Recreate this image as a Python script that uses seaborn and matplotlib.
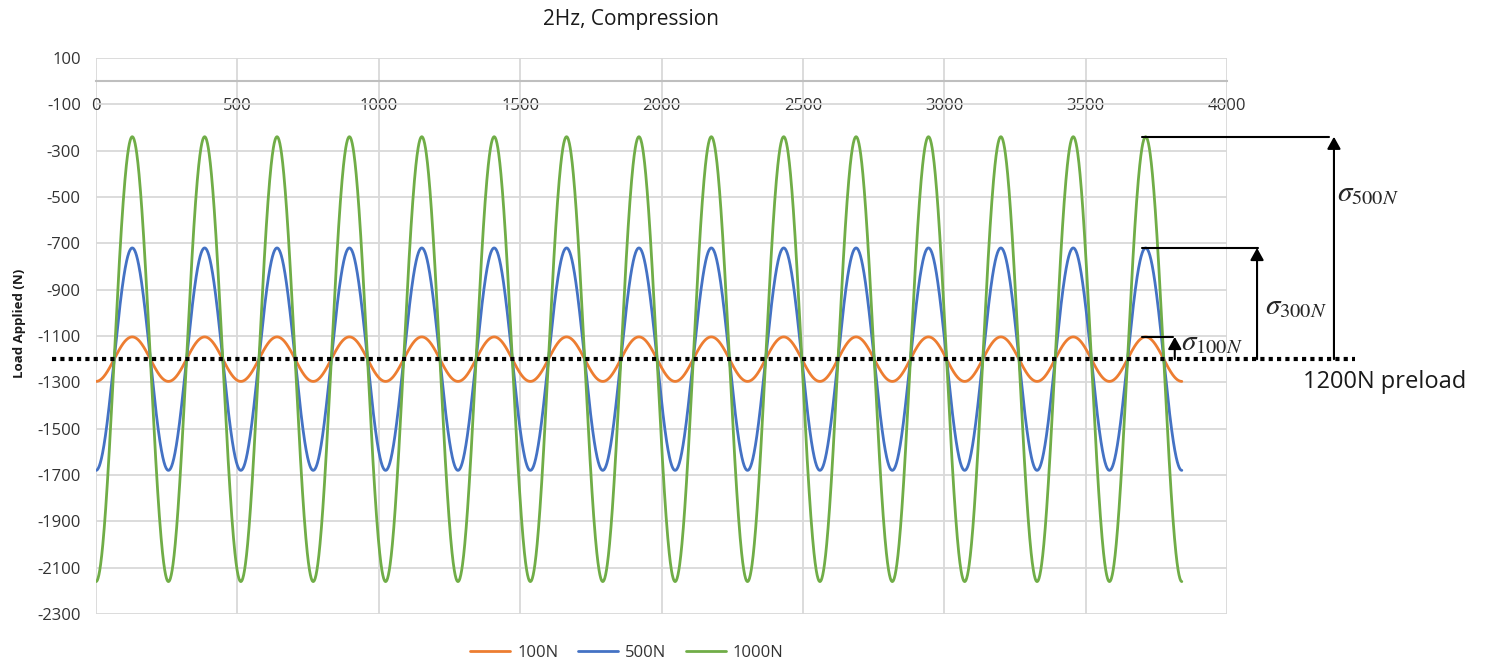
import numpy as np
import pandas as pd
import matplotlib
matplotlib.use("Agg")
import matplotlib.pyplot as plt
import seaborn as sns

# Sinusoidal compression loading about a static preload (2 Hz test)
series_names = ["100N", "500N", "1000N"]
amplitudes = [96, 480, 960]          # half peak-to-peak load of each series (N)
preload = 1200                       # static compressive preload (N)
samples_per_cycle = 256
n_cycles = 15
line_colors = ["#ED7D31", "#4472C4", "#70AD47"]

x_ticks = [0, 500, 1000, 1500, 2000, 2500, 3000, 3500, 4000]
y_ticks = [100, -100, -300, -500, -700, -900, -1100, -1300,
           -1500, -1700, -1900, -2100, -2300]

# Amplitude labels drawn beside the last peak
sigma_labels = [r"$\sigma_{100N}$", r"$\sigma_{300N}$", r"$\sigma_{500N}$"]

sns.set_theme(style="white")
plt.rcParams["font.family"] = ["Open Sans", "DejaVu Sans"]
plt.rcParams["axes.unicode_minus"] = False
plt.rcParams["mathtext.fontset"] = "stix"

sample = np.arange(0, n_cycles * samples_per_cycle + 1)
frames = []
for name, amp in zip(series_names, amplitudes):
    load = -(preload + amp * np.cos(2 * np.pi * sample / samples_per_cycle))
    frames.append(pd.DataFrame({"sample": sample, "load": load, "series": name}))
df = pd.concat(frames, ignore_index=True)

fig = plt.figure(figsize=(14.87, 6.64), dpi=100)
ax = fig.add_axes([0.0646, 0.0753, 0.7606, 0.8374])

sns.lineplot(data=df, x="sample", y="load", hue="series", hue_order=series_names,
             palette=line_colors, linewidth=2.0, ax=ax, legend=True)

ax.set_xlim(x_ticks[0], x_ticks[-1])
ax.set_ylim(y_ticks[-1], y_ticks[0])
ax.set_xticks(x_ticks)
ax.set_yticks(y_ticks)
ax.set_xlabel("")
ax.set_ylabel("")

grid_color = "#d9d9d9"
ax.grid(True, color=grid_color, linewidth=1.3)
ax.set_axisbelow(True)
for side in ["left", "right", "top"]:
    ax.spines[side].set_visible(False)
ax.spines["bottom"].set_position(("data", 0))
ax.spines["bottom"].set_color("#bfbfbf")
ax.spines["bottom"].set_linewidth(1.5)

ax.tick_params(axis="both", length=0, labelsize=12, labelcolor="#333333")
ax.tick_params(axis="x", pad=12)
ax.tick_params(axis="y", pad=11)

# Preload reference line
ax.plot([-156, 4452], [-preload, -preload], color="black", linewidth=3,
        linestyle=(0, (1, 1)), clip_on=False, zorder=5)

# Amplitude markers at the last peak of each series
peak_x = (n_cycles - 0.5) * samples_per_cycle
line_ends = [3810, 4110, 4360]
arrow_x = [3815, 4106, 4378]
label_pos = [(3838, -1128), (4134, -975), (4388, -485)]
for amp, x_end, ax_x, (lx, ly), lab in zip(amplitudes, line_ends, arrow_x,
                                           label_pos, sigma_labels):
    peak_y = -preload + amp
    ax.plot([peak_x - 12, x_end], [peak_y, peak_y], color="black",
            linewidth=1.5, clip_on=False, zorder=6)
    ax.annotate("", xy=(ax_x, peak_y), xytext=(ax_x, -preload),
                arrowprops=dict(arrowstyle="-|>,head_length=0.36,head_width=0.2",
                                mutation_scale=20, color="black", lw=1.5,
                                shrinkA=0, shrinkB=0),
                annotation_clip=False, zorder=6)
    ax.text(lx, ly, lab, fontsize=21, ha="left", va="center", clip_on=False)

ax.text(4268, -1299, "1200N preload", fontsize=17, ha="left", va="center",
        color="#1a1a1a", clip_on=False)

fig.text(631 / 1487, 1 - 20 / 664, "2Hz, Compression", fontsize=15,
         ha="center", va="center", color="#1a1a1a")
fig.text(20 / 1487, 1 - 323 / 664, "Load Applied (N)", fontsize=9.5,
         fontweight="bold", rotation=90, ha="center", va="center", color="#1a1a1a")

handles, labels = ax.get_legend_handles_labels()
ax.legend(handles, labels, loc="center", bbox_to_anchor=(627 / 1487, 1 - 653 / 664),
          bbox_transform=fig.transFigure, ncol=3, frameon=False, fontsize=12,
          handlelength=2.4, columnspacing=1.2, handletextpad=0.4,
          labelcolor="#333333")

fig.savefig("out.png", dpi=100)
